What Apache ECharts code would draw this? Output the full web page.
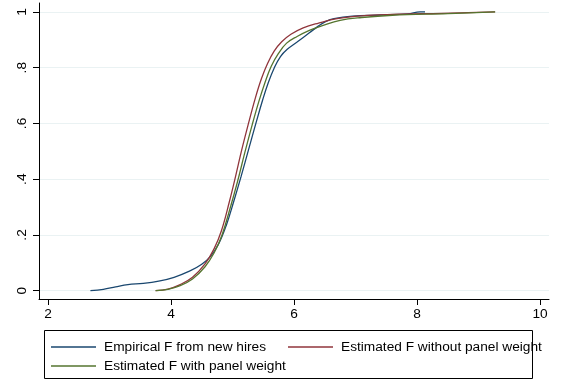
<!DOCTYPE html>
<html>
<head>
<meta charset="utf-8">
<script src="https://cdn.jsdelivr.net/npm/echarts@6/dist/echarts.min.js"></script>
<style>html,body{margin:0;padding:0;background:#fff;}#c{width:564px;height:381px;}</style>
</head>
<body>
<div id="c"></div>
<script>
var seriesNames = ['Empirical F from new hires', 'Estimated F without panel weight', 'Estimated F with panel weight'];
var xTicks = [2, 4, 6, 8, 10];
var yTicks = [0, 0.2, 0.4, 0.6, 0.8, 1];
var yTickLabels = ['0', '.2', '.4', '.6', '.8', '1'];

var empX = [2.69, 2.90, 3.10, 3.30, 3.55, 3.80, 4.05, 4.30, 4.50, 4.65, 4.78, 4.90, 5.02, 5.14, 5.26, 5.38, 5.49, 5.58, 5.68, 5.78, 5.89, 6.05, 6.25, 6.40, 6.52, 6.65, 6.95, 7.40, 7.85, 8.05, 8.13];
var empY = [0, 0.005, 0.014, 0.022, 0.026, 0.034, 0.048, 0.070, 0.095, 0.125, 0.170, 0.235, 0.320, 0.410, 0.505, 0.600, 0.684, 0.745, 0.800, 0.840, 0.866, 0.892, 0.925, 0.950, 0.966, 0.976, 0.985, 0.989, 0.993, 1.0, 1.0];

var noWX = [3.75, 3.95, 4.15, 4.35, 4.55, 4.70, 4.82, 4.95, 5.05, 5.15, 5.26, 5.37, 5.47, 5.57, 5.68, 5.80, 5.95, 6.15, 6.40, 6.70, 7.10, 7.60, 8.40, 9.27];
var noWY = [0, 0.006, 0.022, 0.048, 0.095, 0.150, 0.215, 0.320, 0.410, 0.505, 0.600, 0.690, 0.760, 0.815, 0.860, 0.893, 0.920, 0.943, 0.960, 0.976, 0.986, 0.991, 0.995, 1.0];

var wX = [3.75, 3.95, 4.15, 4.35, 4.55, 4.70, 4.83, 4.96, 5.08, 5.20, 5.32, 5.43, 5.53, 5.63, 5.75, 5.88, 6.05, 6.25, 6.45, 6.75, 7.10, 7.60, 8.50, 9.27];
var wY = [0, 0.005, 0.018, 0.042, 0.085, 0.135, 0.200, 0.295, 0.390, 0.495, 0.595, 0.680, 0.748, 0.805, 0.852, 0.888, 0.912, 0.934, 0.950, 0.970, 0.980, 0.988, 0.994, 1.0];

var colors = ['#1a476f', '#90353b', '#55752f'];

function zip(a, b) { return a.map(function (v, i) { return [v, b[i]]; }); }

var font = 'Liberation Sans, Arial, Helvetica, sans-serif';
var fs = 13.7;
var chart = echarts.init(document.getElementById('c'), null, { renderer: 'canvas' });

function mkSeries(name, xs, ys, color) {
  return {
    name: name, type: 'line', data: zip(xs, ys),
    showSymbol: false, symbol: 'none', smooth: 0.4,
    lineStyle: { color: color, width: 1.3 }, itemStyle: { color: color },
    animation: false
  };
}

function mkLegend(name, left, top) {
  return {
    data: [name], left: left, top: top, orient: 'horizontal',
    icon: 'rect', itemWidth: 45, itemHeight: 1.3, padding: 0,
    textStyle: { fontFamily: font, fontSize: fs, color: '#000', padding: [0, 0, 0, 3] },
    selectedMode: false
  };
}

chart.setOption({
  animation: false,
  backgroundColor: '#fff',
  color: colors,
  grid: { left: 39, right: 15, top: 3, bottom: 82, containLabel: false },
  xAxis: {
    type: 'value', min: 1.854, max: 10.146,
    axisLine: { show: true, onZero: false, lineStyle: { color: '#000', width: 1 } },
    axisTick: { show: true, length: 6, customValues: xTicks, lineStyle: { color: '#000' } },
    axisLabel: { customValues: xTicks, margin: 8, fontFamily: font, fontSize: fs, color: '#000', formatter: function (v) { return String(v); } },
    splitLine: { show: false }
  },
  yAxis: {
    type: 'value', min: -0.0298, max: 1.032,
    axisLine: { show: true, onZero: false, lineStyle: { color: '#000', width: 1 } },
    axisTick: { show: true, length: 6, customValues: yTicks, lineStyle: { color: '#000' } },
    axisLabel: {
      customValues: yTicks, margin: 10, rotate: 90, fontFamily: font, fontSize: fs, color: '#000',
      formatter: function (v) {
        var i = yTicks.findIndex(function (t) { return Math.abs(t - v) < 1e-6; });
        return i >= 0 ? yTickLabels[i] : '';
      }
    },
    splitLine: { show: true, lineStyle: { color: '#eaf2f3', width: 1 } }
  },
  legend: [
    mkLegend(seriesNames[0], 51, 340),
    mkLegend(seriesNames[1], 288, 340),
    mkLegend(seriesNames[2], 51, 359)
  ],
  graphic: [{
    type: 'rect', shape: { x: 44.5, y: 330.5, width: 488, height: 48 },
    style: { fill: 'none', stroke: '#000', lineWidth: 1 }, silent: true, z: 0
  }],
  series: [
    mkSeries(seriesNames[0], empX, empY, colors[0]),
    mkSeries(seriesNames[1], noWX, noWY, colors[1]),
    mkSeries(seriesNames[2], wX, wY, colors[2])
  ]
});
</script>
</body>
</html>
